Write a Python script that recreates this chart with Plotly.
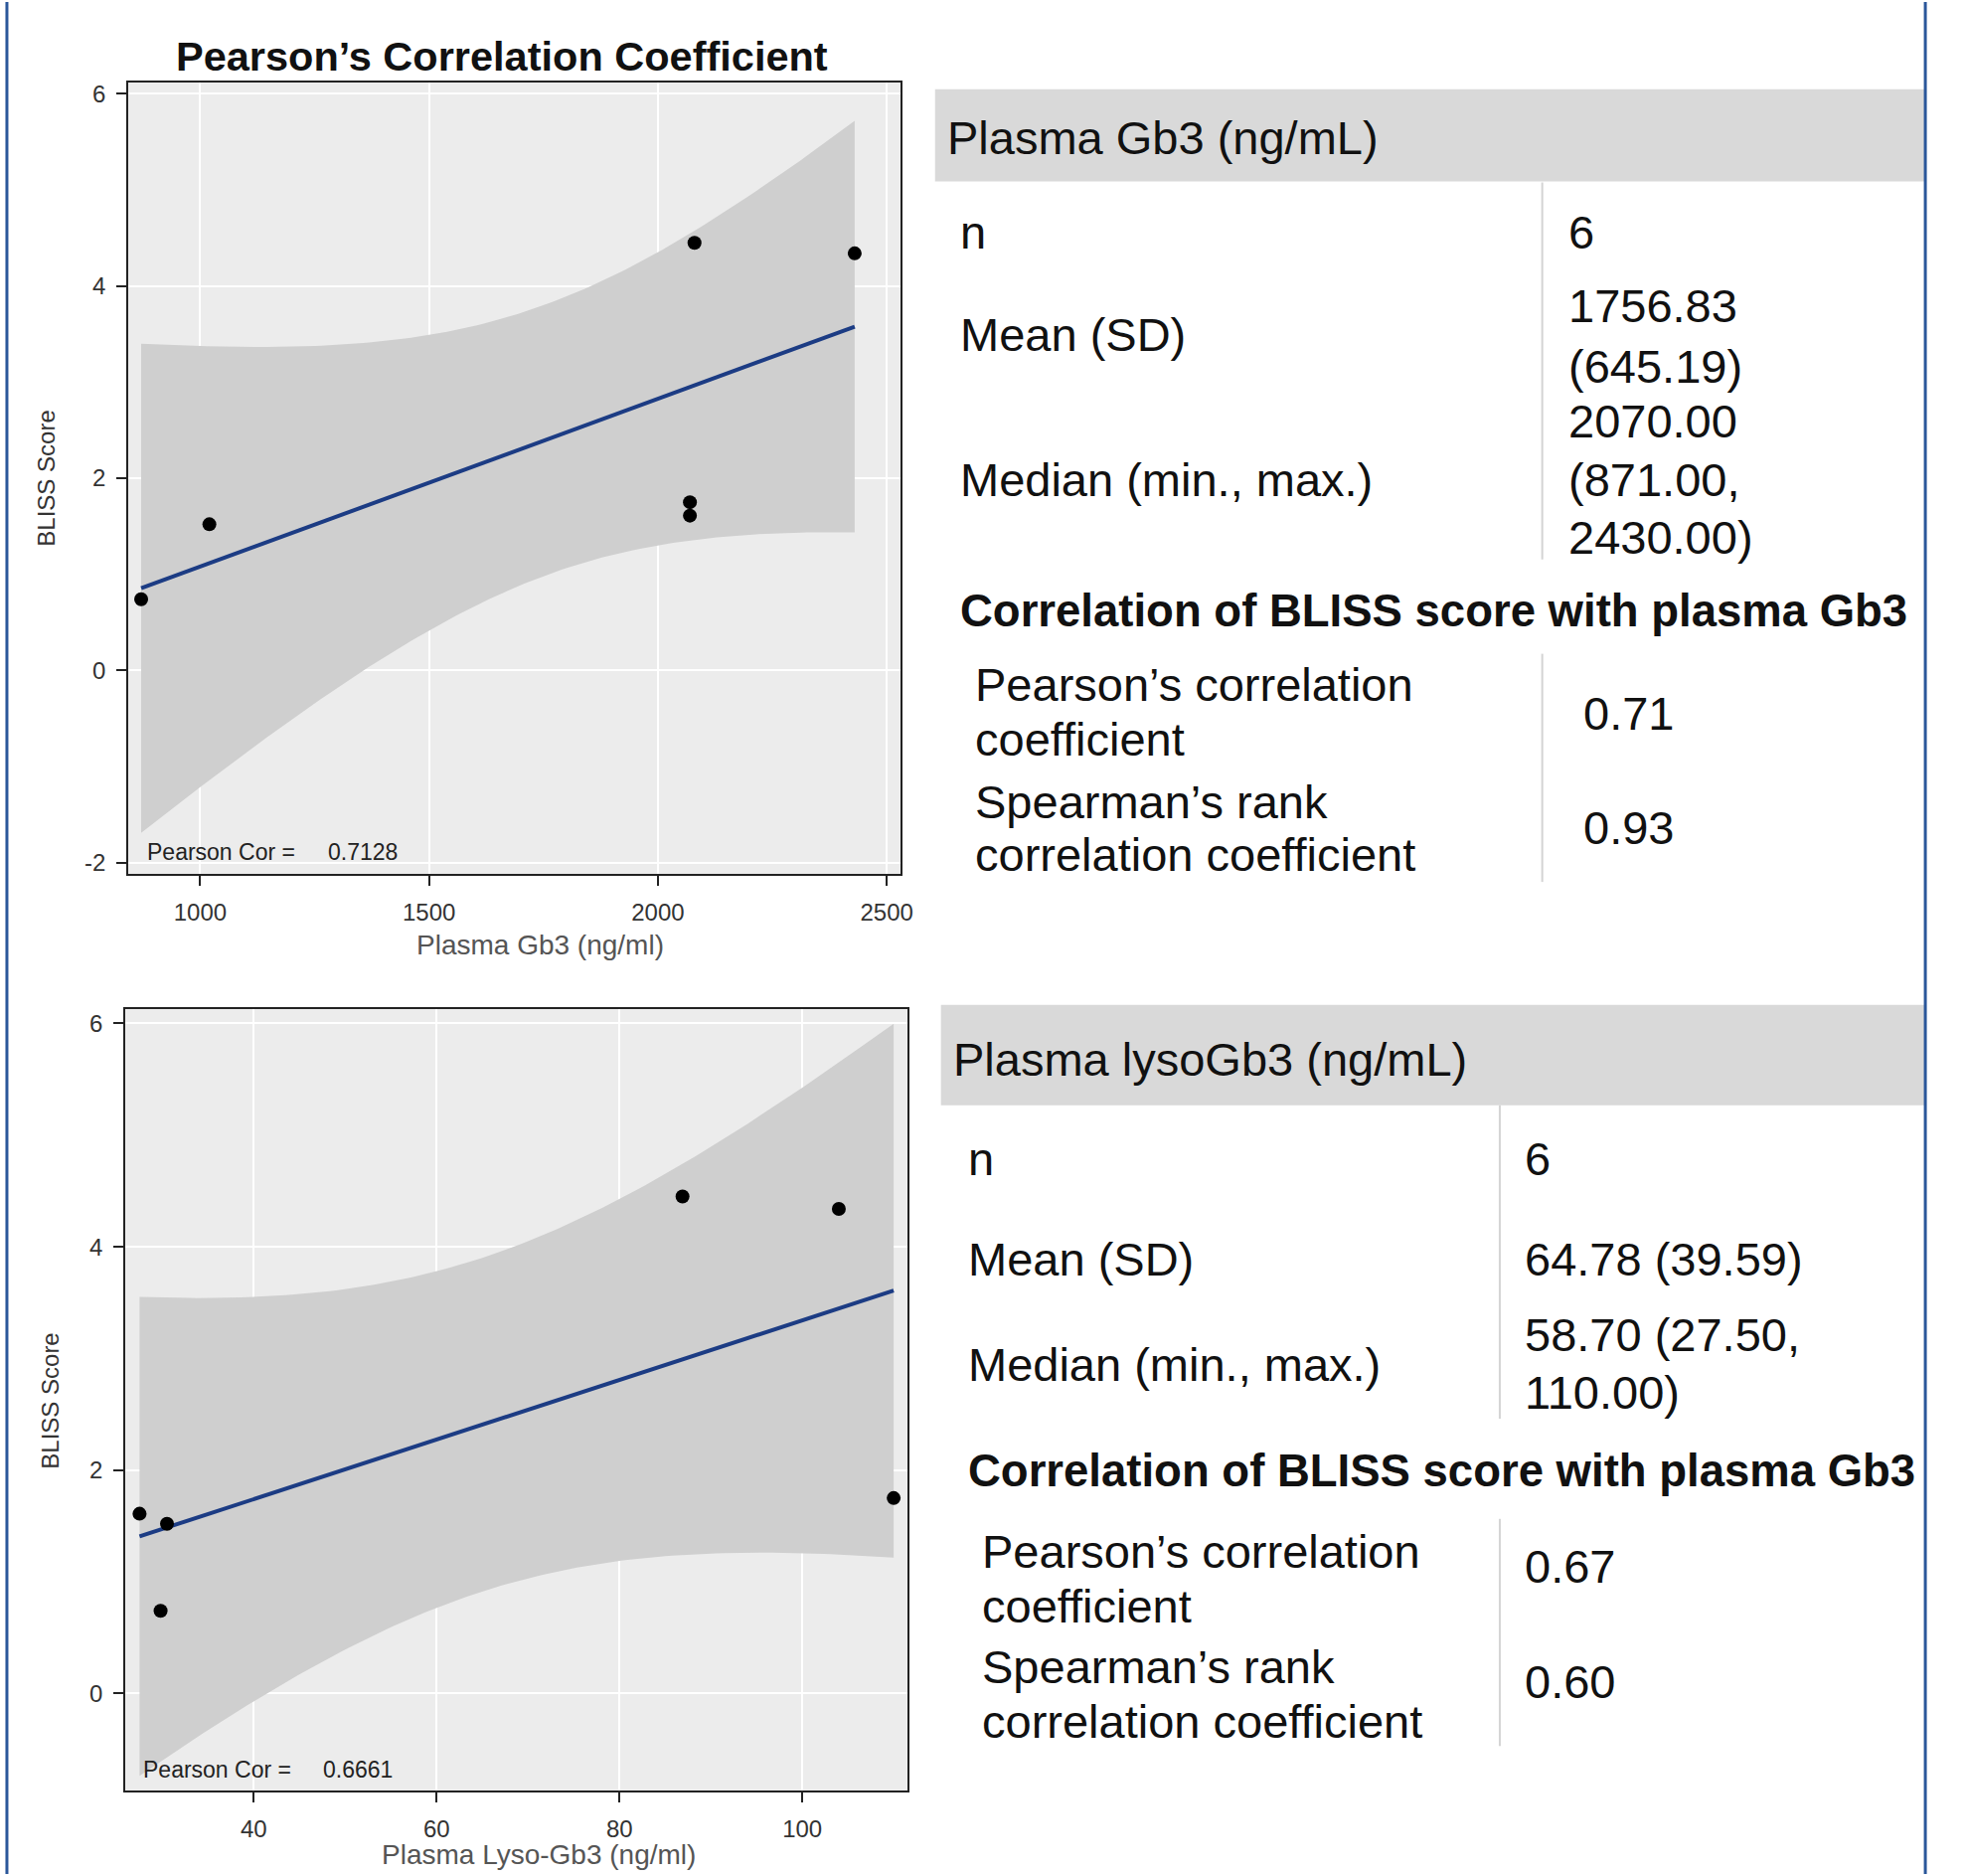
import numpy as np
import plotly.graph_objects as go

W, H = 1962, 1887
FONT = "Liberation Sans, Arial, sans-serif"

# ---------------- data ----------------
gb3 = [871, 1020, 2070, 2070, 2080, 2430]
bliss_gb3 = [0.74, 1.52, 1.75, 1.61, 4.45, 4.34]
lyso_gb3 = [27.5, 30.5, 29.8, 86.9, 104.0, 110.0]
bliss_lyso = [1.61, 1.52, 0.74, 4.45, 4.34, 1.75]
pearson_text = ["0.7128", "0.6661"]

gb3_xticks = [1000, 1500, 2000, 2500]
gb3_yticks = [-2, 0, 2, 4, 6]
gb3_yticklabels = ["-2", "0", "2", "4", "6"]
lyso_xticks = [40, 60, 80, 100]
lyso_yticks = [0, 2, 4, 6]
lyso_yticklabels = ["0", "2", "4", "6"]

x_titles = ["Plasma Gb3 (ng/ml)", "Plasma Lyso-Gb3 (ng/ml)"]
y_title = "BLISS Score"
chart_title = "Pearson’s Correlation Coefficient"

tbl1_header = "Plasma Gb3 (ng/mL)"
tbl1_labels = [["n"], ["Mean (SD)"], ["Median (min., max.)"]]
tbl1_values = [["6"], ["1756.83", "(645.19)"], ["2070.00", "(871.00,", "2430.00)"]]
tbl1_corr_head = "Correlation of BLISS score with plasma Gb3"
tbl1_corr_labels = [["Pearson’s correlation", "coefficient"],
                    ["Spearman’s rank", "correlation coefficient"]]
tbl1_corr_values = ["0.71", "0.93"]

tbl2_header = "Plasma lysoGb3 (ng/mL)"
tbl2_labels = [["n"], ["Mean (SD)"], ["Median (min., max.)"]]
tbl2_values = [["6"], ["64.78 (39.59)"], ["58.70 (27.50,", "110.00)"]]
tbl2_corr_head = "Correlation of BLISS score with plasma Gb3"
tbl2_corr_labels = [["Pearson’s correlation", "coefficient"],
                    ["Spearman’s rank", "correlation coefficient"]]
tbl2_corr_values = ["0.67", "0.60"]

T_CRIT = 2.7764451  # t(0.975, df=4)


def fit(x, y):
    x = np.asarray(x, float)
    y = np.asarray(y, float)
    n = len(x)
    b, a = np.polyfit(x, y, 1)
    xs = np.linspace(x.min(), x.max(), 120)
    yhat = a + b * xs
    resid = y - (a + b * x)
    s = np.sqrt((resid ** 2).sum() / (n - 2))
    sxx = ((x - x.mean()) ** 2).sum()
    se = s * np.sqrt(1.0 / n + (xs - x.mean()) ** 2 / sxx)
    return xs, yhat, yhat - T_CRIT * se, yhat + T_CRIT * se


fig = go.Figure()

for i, (xv, yv) in enumerate([(gb3, bliss_gb3), (lyso_gb3, bliss_lyso)]):
    xa = "x" if i == 0 else "x2"
    ya = "y" if i == 0 else "y2"
    xs, yhat, lo, hi = fit(xv, yv)
    fig.add_trace(go.Scatter(x=list(xs) + list(xs[::-1]), y=list(hi) + list(lo[::-1]),
                             fill="toself", fillcolor="#cfcfcf", line=dict(width=0),
                             mode="lines", hoverinfo="skip", xaxis=xa, yaxis=ya))
    fig.add_trace(go.Scatter(x=xs, y=yhat, mode="lines",
                             line=dict(color="#1c3c84", width=4), xaxis=xa, yaxis=ya))
    fig.add_trace(go.Scatter(x=xv, y=yv, mode="markers",
                             marker=dict(color="black", size=14), xaxis=xa, yaxis=ya))

axis_common = dict(showline=True, mirror=True, linecolor="#222", linewidth=2,
                   ticks="outside", ticklen=10, tickwidth=2, tickcolor="#222",
                   showgrid=True, gridcolor="white", gridwidth=2, zeroline=False,
                   tickfont=dict(family=FONT, size=24, color="#333"))


def px_x(p):
    return p / W


def px_y(p):
    return 1 - p / H


fig.update_layout(
    width=W, height=H, autosize=False, margin=dict(l=0, r=0, t=0, b=0),
    paper_bgcolor="white", plot_bgcolor="#ececec", showlegend=False,
    xaxis=dict(axis_common, domain=[px_x(130), px_x(912)], range=[843, 2530],
               tickvals=gb3_xticks, anchor="y", ticklabelstandoff=6),
    yaxis=dict(axis_common, domain=[px_y(879), px_y(81)], range=[-2.12, 6.12],
               tickvals=gb3_yticks, ticktext=gb3_yticklabels, anchor="x", ticklabelstandoff=6),
    xaxis2=dict(axis_common, domain=[px_x(127), px_x(919)], range=[25.95, 111.5],
                tickvals=lyso_xticks, anchor="y2", ticklabelstandoff=6),
    yaxis2=dict(axis_common, domain=[px_y(1803), px_y(1015)], range=[-0.87, 6.13],
                tickvals=lyso_yticks, ticktext=lyso_yticklabels, anchor="x2", ticklabelstandoff=6),
)

anns = []
shapes = []


def ann(text, px, py, size, bold=False, xanchor="left", color="#111", angle=0):
    t = f"<b>{text}</b>" if bold else text
    anns.append(dict(text=t, x=px_x(px), y=px_y(py), xref="paper", yref="paper",
                     xanchor=xanchor, yanchor="middle", showarrow=False, textangle=angle,
                     font=dict(family=FONT, size=size, color=color)))


def block(lines, px, cy_list, size, bold=False):
    for line, cy in zip(lines, cy_list):
        ann(line, px, cy, size, bold)


# chart title
ann(chart_title, 508, 55, 41.5, bold=True, xanchor="center")

# axis titles
ann(x_titles[0], 547, 951, 28, xanchor="center", color="#555")
ann(x_titles[1], 546, 1867, 28, xanchor="center", color="#555")
ann(y_title, 47, 480, 24, xanchor="center", color="#333", angle=-90)
ann(y_title, 50, 1410, 24, xanchor="center", color="#333", angle=-90)

# Pearson cor labels inside plots
ann("Pearson Cor =", 147, 857, 23, color="#222")
ann(pearson_text[0], 330, 857, 23, color="#222")
ann("Pearson Cor =", 143, 1782, 23, color="#222")
ann(pearson_text[1], 325, 1782, 23, color="#222")

FS = 47
FSB = 45.5

# ---- table 1 ----
shapes.append(dict(type="rect", xref="paper", yref="paper", x0=px_x(947), x1=px_x(1951),
                   y0=px_y(181), y1=px_y(88), fillcolor="#d9d9d9", line=dict(width=0), layer="below"))
shapes.append(dict(type="line", xref="paper", yref="paper", x0=px_x(1562), x1=px_x(1562),
                   y0=px_y(182), y1=px_y(562), line=dict(color="#d4d4d4", width=2)))
shapes.append(dict(type="line", xref="paper", yref="paper", x0=px_x(1562), x1=px_x(1562),
                   y0=px_y(657), y1=px_y(887), line=dict(color="#d4d4d4", width=2)))
ann(tbl1_header, 957, 137, FS)
lab_cy = [[232], [335], [482]]
val_cy = [[232], [306, 367], [422, 482, 540]]
for labs, vals, lcy, vcy in zip(tbl1_labels, tbl1_values, lab_cy, val_cy):
    block(labs, 970, lcy, FS)
    block(vals, 1587, vcy, FS)
ann(tbl1_corr_head, 970, 614, FSB, bold=True)
block(tbl1_corr_labels[0], 986, [688, 743], FS)
block(tbl1_corr_labels[1], 986, [806, 859], FS)
ann(tbl1_corr_values[0], 1602, 717, FS)
ann(tbl1_corr_values[1], 1602, 832, FS)

# ---- table 2 ----
shapes.append(dict(type="rect", xref="paper", yref="paper", x0=px_x(953), x1=px_x(1951),
                   y0=px_y(1112), y1=px_y(1011), fillcolor="#d9d9d9", line=dict(width=0), layer="below"))
shapes.append(dict(type="line", xref="paper", yref="paper", x0=px_x(1519), x1=px_x(1519),
                   y0=px_y(1112), y1=px_y(1428), line=dict(color="#d4d4d4", width=2)))
shapes.append(dict(type="line", xref="paper", yref="paper", x0=px_x(1519), x1=px_x(1519),
                   y0=px_y(1529), y1=px_y(1758), line=dict(color="#d4d4d4", width=2)))
ann(tbl2_header, 963, 1066, FS)
lab_cy = [[1166], [1267], [1373]]
val_cy = [[1166], [1267], [1343, 1401]]
for labs, vals, lcy, vcy in zip(tbl2_labels, tbl2_values, lab_cy, val_cy):
    block(labs, 978, lcy, FS)
    block(vals, 1542, vcy, FS)
ann(tbl2_corr_head, 978, 1481, FSB, bold=True)
block(tbl2_corr_labels[0], 993, [1562, 1617], FS)
block(tbl2_corr_labels[1], 993, [1678, 1733], FS)
ann(tbl2_corr_values[0], 1542, 1577, FS)
ann(tbl2_corr_values[1], 1542, 1693, FS)

# blue page borders
for bx in [7, 1950]:
    shapes.append(dict(type="line", xref="paper", yref="paper", x0=px_x(bx), x1=px_x(bx),
                       y0=0, y1=1, line=dict(color="#2b579a", width=3)))

fig.update_layout(annotations=anns, shapes=shapes)
fig.write_html("out.html",
               config={"displayModeBar": False, "responsive": False},
               post_script="document.body.style.margin='0px';document.body.style.overflow='hidden';")
